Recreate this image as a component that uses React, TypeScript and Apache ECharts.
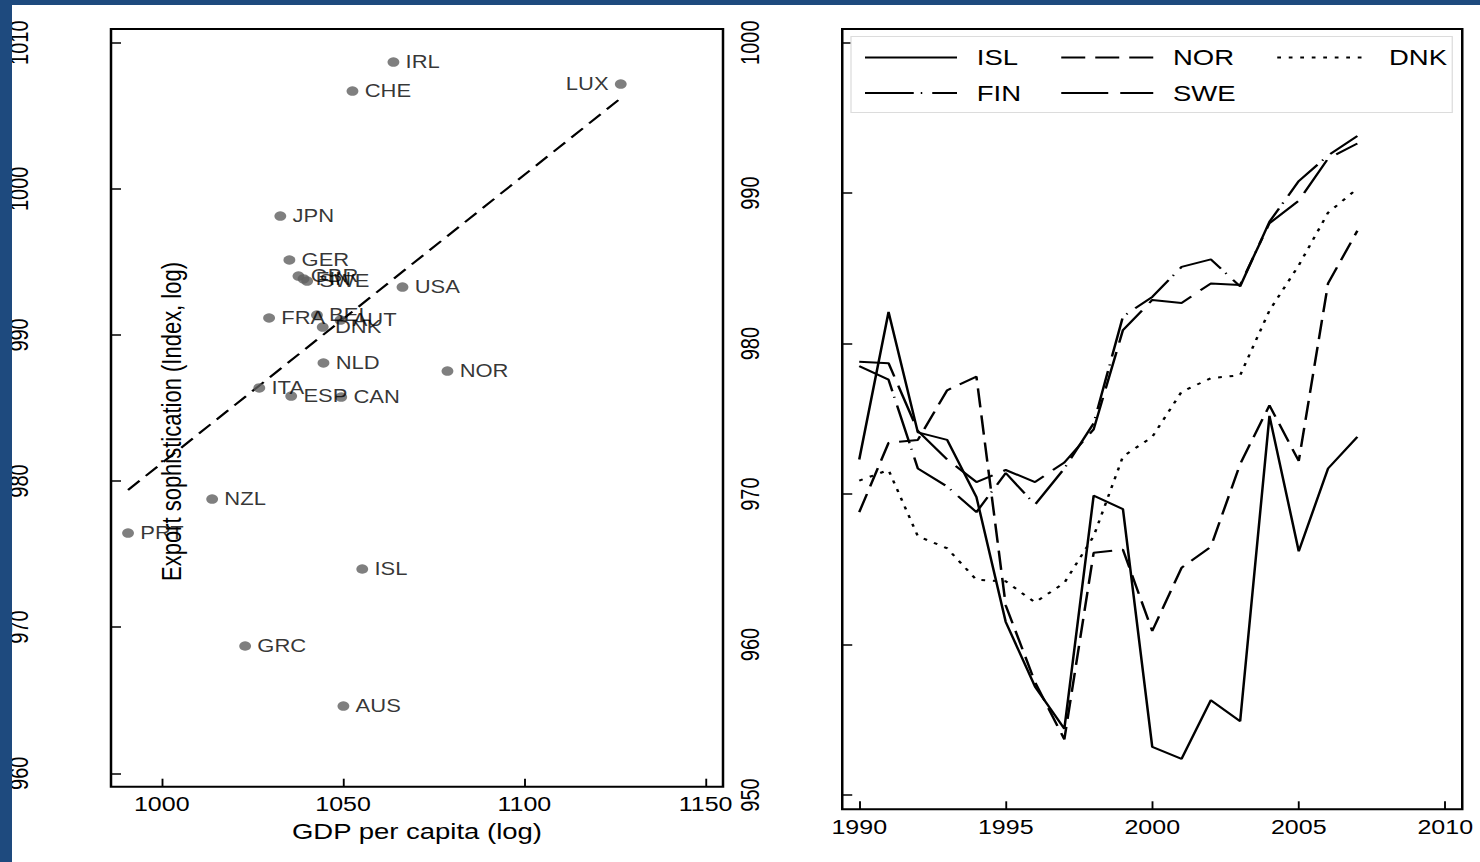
import React, { useEffect, useRef } from "react";
import * as echarts from "echarts";

// ---------- data ----------
const countries = ["IRL", "CHE", "LUX", "JPN", "GER", "GBR", "FIN", "SWE", "USA", "FRA", "BEL", "AUT", "DNK", "NLD", "NOR", "ITA", "ESP", "CAN", "NZL", "PRT", "ISL", "GRC", "AUS"];
const gdpPerCapita = [1063.9, 1052.6, 1126.6, 1032.7, 1035.2, 1037.7, 1039.1, 1040.1, 1066.4, 1029.6, 1042.8, 1049.3, 1044.4, 1044.6, 1078.8, 1026.9, 1035.7, 1049.5, 1013.9, 990.7, 1055.3, 1023.0, 1050.1];
const exportSoph = [1008.68, 1006.69, 1007.17, 998.14, 995.13, 994.03, 993.83, 993.69, 993.28, 991.16, 991.36, 991.02, 990.54, 988.08, 987.53, 986.37, 985.82, 985.75, 978.77, 976.44, 973.98, 968.71, 964.6];
const fitX = [990.7, 1127.0];
const fitY = [979.39, 1006.28];

const years = [1990, 1991, 1992, 1993, 1994, 1995, 1996, 1997, 1998, 1999, 2000, 2001, 2002, 2003, 2004, 2005, 2006, 2007];
const isl = [972.3, 982.1, 974.1, 973.6, 969.8, 961.5, 957.2, 954.4, 969.9, 969.0, 953.2, 952.4, 956.3, 954.9, 975.2, 966.2, 971.7, 973.8];
const nor = [968.8, 973.4, 973.6, 976.9, 977.8, 962.6, 957.5, 953.7, 966.1, 966.3, 960.9, 965.1, 966.5, 972.0, 975.9, 972.2, 984.0, 987.5];
const dnk = [970.9, 971.6, 967.2, 966.4, 964.3, 964.2, 962.8, 964.1, 967.2, 972.5, 973.8, 976.8, 977.7, 977.9, 982.2, 985.2, 988.7, 990.3];
const fin = [978.5, 977.6, 971.7, 970.5, 968.8, 971.4, 969.3, 971.7, 974.7, 981.8, 983.1, 985.1, 985.6, 983.8, 988.1, 990.8, 992.5, 993.8];
const swe = [978.8, 978.7, 974.2, 972.3, 970.8, 971.6, 970.8, 972.1, 974.3, 980.9, 982.9, 982.7, 984.0, 983.9, 988.0, 989.5, 992.3, 993.3];

const xTicksLeft = [1000, 1050, 1100, 1150];
const yTicksLeft = [960, 970, 980, 990, 1000, 1010];
const xTicksRight = [1990, 1995, 2000, 2005, 2010];
const yTicksRight = [950, 960, 970, 980, 990, 1000];

// ---------- layout ----------
const S = 1.25; // horizontal stretch of the reference picture
const W = 1480 / S;
const H = 862;
const FONT = "'Liberation Sans', Arial, Helvetica, sans-serif";
const BLUE = "#1e4a7e";

const fmt = (v: number) => String(v);

function axisCommon(ticks: number[], rotate: number, margin: number) {
  return {
    axisLine: { show: false },
    splitLine: { show: false },
    axisTick: { show: true, inside: true, length: 8, lineStyle: { color: "#000", width: 1.5 }, customValues: ticks },
    axisLabel: { show: true, customValues: ticks, formatter: fmt, fontSize: 20, color: "#000", margin, rotate, fontFamily: FONT },
  };
}

export default function App() {
  const ref = useRef<HTMLDivElement>(null);

  useEffect(() => {
    if (!ref.current) return;
    const chart = echarts.init(ref.current, null, { renderer: "svg" });

    const lineSeries = [
      { name: "ISL", data: isl, type: "solid" as any },
      { name: "NOR", data: nor, type: [19.2, 8] },
      { name: "DNK", data: dnk, type: [3, 6.2] },
      { name: "FIN", data: fin, type: [39, 5.6, 1.2, 8] },
      { name: "SWE", data: swe, type: [37.6, 9.6] },
    ].map((s) => ({
      type: "line",
      name: s.name,
      xAxisIndex: 1,
      yAxisIndex: 1,
      symbol: "none",
      data: years.map((y, i) => [y, s.data[i]]),
      lineStyle: { color: "#000", width: 2, type: s.type },
      itemStyle: { color: "#000" },
      silent: true,
    }));

    const legendPos = [
      { name: "ISL", left: 691, cy: 57.5 },
      { name: "NOR", left: 848, cy: 57.5 },
      { name: "DNK", left: 1020.8, cy: 57.5 },
      { name: "FIN", left: 691, cy: 93 },
      { name: "SWE", left: 848, cy: 93 },
    ];

    const option: any = {
      animation: false,
      backgroundColor: "#fff",
      textStyle: { fontFamily: FONT },
      grid: [
        { left: 88.8, top: 29, width: 489.6, height: 757.7, show: true, borderColor: "#000", borderWidth: 2, backgroundColor: "transparent" },
        { left: 673.8, top: 29, width: 496, height: 780.3, show: true, borderColor: "#000", borderWidth: 2, backgroundColor: "transparent" },
      ],
      xAxis: [
        {
          gridIndex: 0, type: "value", min: 986.0, max: 1154.8,
          ...axisCommon(xTicksLeft, 0, 8),
          name: "GDP per capita (log)", nameLocation: "middle", nameGap: 27,
          nameTextStyle: { fontSize: 22, color: "#000", fontFamily: FONT },
        },
        { gridIndex: 1, type: "value", min: 1989.42, max: 2010.58, ...axisCommon(xTicksRight, 0, 8) },
      ],
      yAxis: [
        { gridIndex: 0, type: "value", min: 959.08, max: 1010.94, ...axisCommon(yTicksLeft, 90, 63) },
        { gridIndex: 1, type: "value", min: 949.05, max: 1000.91, ...axisCommon(yTicksRight, 90, 63) },
      ],
      legend: legendPos.map((l) => ({
        data: [l.name],
        left: l.left,
        top: l.cy - 11,
        orient: "horizontal",
        padding: 0,
        itemWidth: 73.6,
        itemHeight: 22,
        selectedMode: false,
        itemStyle: { opacity: 0 },
        lineStyle: { width: 2 },
        textStyle: { fontSize: 22, color: "#000", fontFamily: FONT, padding: [0, 0, 0, 10.8] },
        z: 10,
      })),
      graphic: [
        { type: "rect", z: 1, shape: { x: 680.8, y: 36.5, width: 481, height: 76 }, style: { fill: "#fff", stroke: "#dcdcdc", lineWidth: 1 } },
        {
          type: "text", x: 137.2, y: 421.5, rotation: Math.PI / 2, z: 5,
          style: { text: "Export sophistication (Index, log)", fontSize: 22, fill: "#000", align: "center", verticalAlign: "middle", fontFamily: FONT },
        },
        { type: "rect", z: 100, shape: { x: 0, y: 0, width: 9.6, height: H }, style: { fill: BLUE } },
        { type: "rect", z: 100, shape: { x: 0, y: 0, width: W, height: 5 }, style: { fill: BLUE } },
      ],
      series: [
        {
          type: "line",
          name: "fit",
          xAxisIndex: 0,
          yAxisIndex: 0,
          symbol: "none",
          data: fitX.map((x, i) => [x, fitY[i]]),
          lineStyle: { color: "#000", width: 2, type: [13, 7] },
          silent: true,
          z: 2,
        },
        {
          type: "scatter",
          name: "countries",
          xAxisIndex: 0,
          yAxisIndex: 0,
          symbol: "circle",
          symbolSize: 9.5,
          itemStyle: { color: "#5f5f5f" },
          label: { show: true, position: "right", distance: 5, formatter: (p: any) => p.name, fontSize: 17.6, color: "#000", fontFamily: FONT },
          data: countries.map((c, i) => ({
            name: c,
            value: [gdpPerCapita[i], exportSoph[i]],
            ...(c === "LUX" ? { label: { position: "left" } } : {}),
          })),
          silent: true,
          z: 3,
        },
        ...lineSeries,
      ],
    };

    chart.setOption(option);
    return () => chart.dispose();
  }, []);

  return (
    <div style={{ position: "fixed", left: 0, top: 0, width: 1480, height: H, overflow: "hidden", background: "#fff" }}>
      <div
        ref={ref}
        style={{ width: W, height: H, transform: `scaleX(${S})`, transformOrigin: "0 0" }}
      />
    </div>
  );
}
